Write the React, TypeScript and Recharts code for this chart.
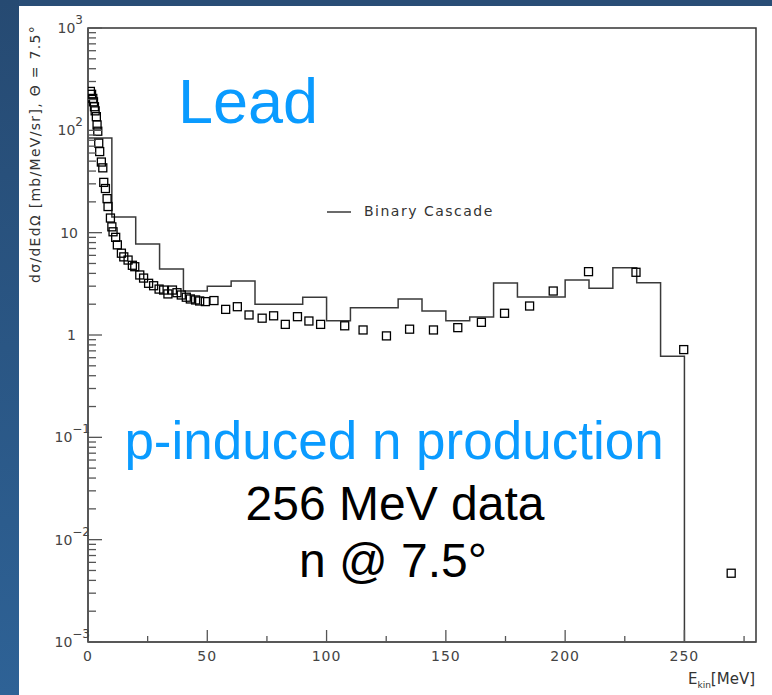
import { ComposedChart, Line, ReferenceArea, Scatter, XAxis, YAxis } from "recharts";

// Binary Cascade histogram: left bin edges [MeV] and dσ/dEdΩ per bin
const cascadeE = [0, 10, 20, 30, 40, 50, 60, 70, 80, 90, 100, 110, 120, 130, 140, 150, 160, 170, 180, 190, 200, 210, 220, 230, 240, 250];
const cascadeXs = [84, 14.2, 7.75, 4.42, 2.69, 3.0, 3.37, 2.0, 2.0, 2.34, 1.38, 1.85, 1.85, 2.25, 1.72, 1.38, 1.5, 3.22, 2.35, 2.35, 3.45, 2.86, 4.55, 3.24, 0.62, 0.001];

// 256 MeV measurement
const dataE = [
  1.0, 1.5, 2.0, 2.3, 2.7, 3.0, 3.5, 3.8, 4.1, 4.5, 4.9, 5.6, 6.2, 6.6, 7.3, 8.0, 8.4, 9.4, 10.0, 10.5,
  11.6, 12.3, 14.0, 15.0, 16.8, 18.6, 19.6, 21.7, 23.3, 25.4, 27.5, 29.8, 31.7, 33.5, 35.4, 37.3, 39.1,
  41.2, 42.9, 45.1, 46.8, 49.2, 52.8, 57.7, 62.6, 67.5, 73, 77.8, 82.7, 87.8, 92.6, 97.5, 107.6, 115.3,
  125.1, 134.8, 144.8, 155, 164.9, 174.6, 185.1, 195, 209.8, 229.7, 249.7, 269.6,
];
const dataXs = [
  240, 225, 205, 190, 170, 155, 136, 113, 98, 75, 62, 49, 43, 31, 27, 21.5, 18, 13.9, 11.4, 10.2,
  9.0, 7.6, 6.3, 5.8, 5.4, 4.8, 4.65, 3.86, 3.6, 3.2, 3.03, 2.81, 2.75, 2.52, 2.75, 2.59, 2.46,
  2.34, 2.25, 2.2, 2.15, 2.12, 2.17, 1.78, 1.89, 1.57, 1.46, 1.54, 1.27, 1.51, 1.37, 1.27, 1.23, 1.12,
  0.98, 1.14, 1.12, 1.18, 1.33, 1.63, 1.92, 2.69, 4.16, 4.1, 0.72, 0.0047,
];

const decades = [0.001, 0.01, 0.1, 1, 10, 100];
const mantissas = [1, 2, 3, 4, 5, 6, 7, 8, 9];
const yTicks = [...decades.flatMap((d) => mantissas.map((m) => m * d)), 1000];
const xTicks = [0, 25, 50, 75, 100, 125, 150, 175, 200, 225, 250, 275];

const cascade = cascadeE.map((e, i) => ({ e, xs: cascadeXs[i] }));
const measured = dataE.map((e, i) => ({ e, xs: dataXs[i] }));

const AXIS = "#555";
const TICK_FONT = "'DejaVu Sans', sans-serif";

function YTick(props: any) {
  const { x, y, payload } = props;
  const v = payload.value as number;
  const exp = Math.round(Math.log10(v));
  const major = Math.abs(v / 10 ** exp - 1) < 1e-6;
  let label = null;
  if (major) {
    if (exp === 0 || exp === 1) {
      label = (
        <text x={exp === 0 ? 76 : 78} y={y + 5} textAnchor="end" fontSize={14} fill="#444" fontFamily={TICK_FONT}>
          {exp === 0 ? "1" : "10"}
        </text>
      );
    } else {
      const sup = exp < 0 ? `\u2212${-exp}` : `${exp}`;
      label = (
        <text x={exp < 0 ? 90 : 83} y={y + 5} textAnchor="end" fontSize={14} fill="#444" fontFamily={TICK_FONT}>
          10
          <tspan dy={-9} fontSize={12}>{sup}</tspan>
        </text>
      );
    }
  }
  return (
    <g>
      <line x1={x} x2={x + (major ? 14 : 8)} y1={y} y2={y} stroke={AXIS} strokeWidth={1.3} />
      {label}
    </g>
  );
}

function XTick(props: any) {
  const { x, y, payload } = props;
  const v = payload.value as number;
  const major = v % 50 === 0;
  return (
    <g>
      <line x1={x} x2={x} y1={y} y2={y - (major ? 12 : 6)} stroke={AXIS} strokeWidth={1.3} />
      {major && (
        <text x={x} y={y + 19} textAnchor="middle" fontSize={14} letterSpacing={1} fill="#444" fontFamily={TICK_FONT}>
          {v}
        </text>
      )}
    </g>
  );
}

function Box(props: any) {
  const { cx, cy } = props;
  if (cx == null || cy == null) return <g />;
  return <rect x={cx - 4} y={cy - 4} width={8} height={8} fill="none" stroke="#000" strokeWidth={1.3} />;
}

export default function App() {
  return (
    <div style={{ position: "relative", width: 772, height: 695, background: "#fff", overflow: "hidden" }}>
      <style>{"body{margin:0}"}</style>
      <div style={{ position: "absolute", left: 0, top: 0, width: 772, height: 6, background: "#294d76" }} />
      <div
        style={{
          position: "absolute",
          left: 0,
          top: 0,
          width: 19,
          height: 695,
          background: "linear-gradient(#264a72, #2e6296)",
        }}
      />
      <div style={{ position: "absolute", left: 0, top: 0 }}>
        <ComposedChart width={772} height={695} margin={{ top: 28, right: 16, bottom: 23, left: 0 }}>
          <XAxis
            dataKey="e"
            type="number"
            domain={[0, 280]}
            ticks={xTicks}
            allowDataOverflow
            height={30}
            tickSize={0}
            tickMargin={0}
            tick={<XTick />}
            axisLine={{ stroke: AXIS, strokeWidth: 1.5 }}
          />
          <YAxis
            dataKey="xs"
            scale="log"
            domain={[0.001, 1000]}
            ticks={yTicks}
            allowDataOverflow
            interval={0}
            width={88}
            tickSize={0}
            tickMargin={0}
            tick={<YTick />}
            axisLine={{ stroke: AXIS, strokeWidth: 1.5 }}
          />
          <ReferenceArea x1={0} x2={280} y1={0.001} y2={1000} fill="none" stroke="#333" strokeWidth={1.5} />
          <Line
            data={cascade}
            dataKey="xs"
            type="stepAfter"
            stroke="#3a3a3a"
            strokeWidth={1.5}
            dot={false}
            isAnimationActive={false}
          />
          <Scatter data={measured} dataKey="xs" shape={<Box />} isAnimationActive={false} />
        </ComposedChart>
      </div>
      <svg width={772} height={695} style={{ position: "absolute", left: 0, top: 0, pointerEvents: "none" }}>
        <text
          x={40}
          y={25}
          transform="rotate(-90 40 25)"
          textAnchor="end"
          fontSize={14}
          letterSpacing={1.3}
          fill="#333"
          fontFamily="'DejaVu Sans', sans-serif"
        >
          dσ/dEdΩ [mb/MeV/sr], Θ = 7.5°
        </text>
        <line x1={327} x2={351} y1={212} y2={212} stroke="#3a3a3a" strokeWidth={1.5} />
        <text x={364} y={216} fontSize={14} fill="#333" letterSpacing={1.5} fontFamily="'DejaVu Sans', sans-serif">
          Binary Cascade
        </text>
        <text x={755} y={684} textAnchor="end" fontSize={15} fill="#333" fontFamily={TICK_FONT}>
          E<tspan fontSize={9} dy={4}>kin</tspan>
          <tspan dy={-4}>[MeV]</tspan>
        </text>
        <text x={178} y={123} fontSize={63} fill="#0a9bff" fontFamily="'Liberation Sans', Arial, sans-serif">
          Lead
        </text>
        <g fontFamily="'Liberation Sans', Arial, sans-serif" textAnchor="middle">
          <text x={394} y={459} fontSize={53} fill="#0a9bff">
            p-induced n production
          </text>
          <text x={395} y={520} fontSize={48} fill="#000">
            256 MeV data
          </text>
          <text x={393} y={577} fontSize={48} fill="#000">
            n @ 7.5°
          </text>
        </g>
      </svg>
    </div>
  );
}
